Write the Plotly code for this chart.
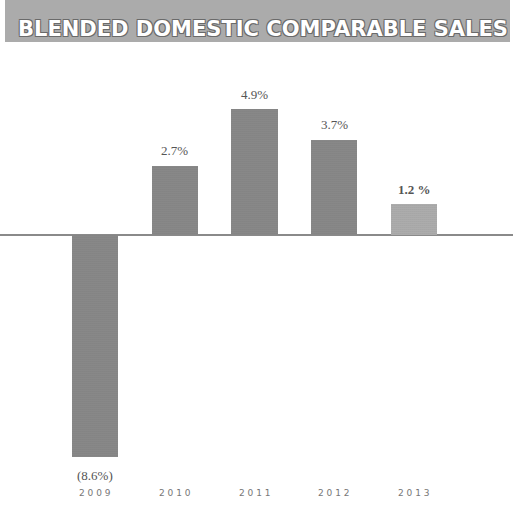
import plotly.graph_objects as go

years = ["2009", "2010", "2011", "2012", "2013"]
values = [-8.6, 2.7, 4.9, 3.7, 1.2]
value_labels = ["(8.6%)", "2.7%", "4.9%", "3.7%", "<b>1.2 %</b>"]
year_labels = ["2 0 0 9", "2 0 1 0", "2 0 1 1", "2 0 1 2", "2 0 1 3"]
bar_colors = ["#8e8e8e", "#8e8e8e", "#8e8e8e", "#8e8e8e", "#b6b6b6"]
title_text = "BLENDED DOMESTIC COMPARABLE SALES"

W, H = 513, 505

def py(px):
    return 1 - px / H

fig = go.Figure()
fig.add_trace(go.Bar(
    x=list(range(len(years))), y=values,
    width=0.58,
    marker=dict(color=bar_colors, line=dict(width=0),
                pattern=dict(shape=".", fgcolor="#7c7c7c", size=2, solidity=0.3)),
    hoverinfo="skip",
))

annotations = []
for i, (v, lab) in enumerate(zip(values, value_labels)):
    annotations.append(dict(
        x=i, y=v, xref="x", yref="y", text=lab, showarrow=False,
        yshift=15 if v >= 0 else -19,
        font=dict(family="Liberation Serif", size=13, color="#555555"),
    ))
for i, yl in enumerate(year_labels):
    annotations.append(dict(
        x=i, y=py(493), xref="x", yref="paper", text=yl, showarrow=False,
        yanchor="middle",
        font=dict(family="DejaVu Sans", size=9, color="#777777"),
    ))
annotations.append(dict(
    x=263 / W, y=py(29), xref="paper", yref="paper", text=title_text,
    showarrow=False, yanchor="middle", xanchor="center",
    font=dict(family="DejaVu Sans", size=21, color="#ffffff", weight="bold",
              shadow="-1px -1px 0 #6a6a6a, 1px -1px 0 #6a6a6a, -1px 1px 0 #6a6a6a, 1px 1px 0 #6a6a6a"),
))

fig.update_layout(
    width=W, height=H,
    margin=dict(l=0, r=0, t=0, b=0),
    paper_bgcolor="white", plot_bgcolor="white",
    showlegend=False,
    bargap=0,
    xaxis=dict(range=[-1.19, 5.24], showticklabels=False, showgrid=False,
               zeroline=False, showline=False, fixedrange=True),
    yaxis=dict(range=[-9.316, 7.195], domain=[py(475), py(50)],
               showticklabels=False, showgrid=False,
               zeroline=True, zerolinecolor="#8a8a8a", zerolinewidth=1.5,
               showline=False, fixedrange=True),
    shapes=[dict(type="rect", xref="paper", yref="paper",
                 x0=5 / W, x1=510 / W, y0=py(42), y1=py(0),
                 fillcolor="#ababab", line=dict(width=0), layer="below")],
    annotations=annotations,
)

fig.write_html("out.html")
